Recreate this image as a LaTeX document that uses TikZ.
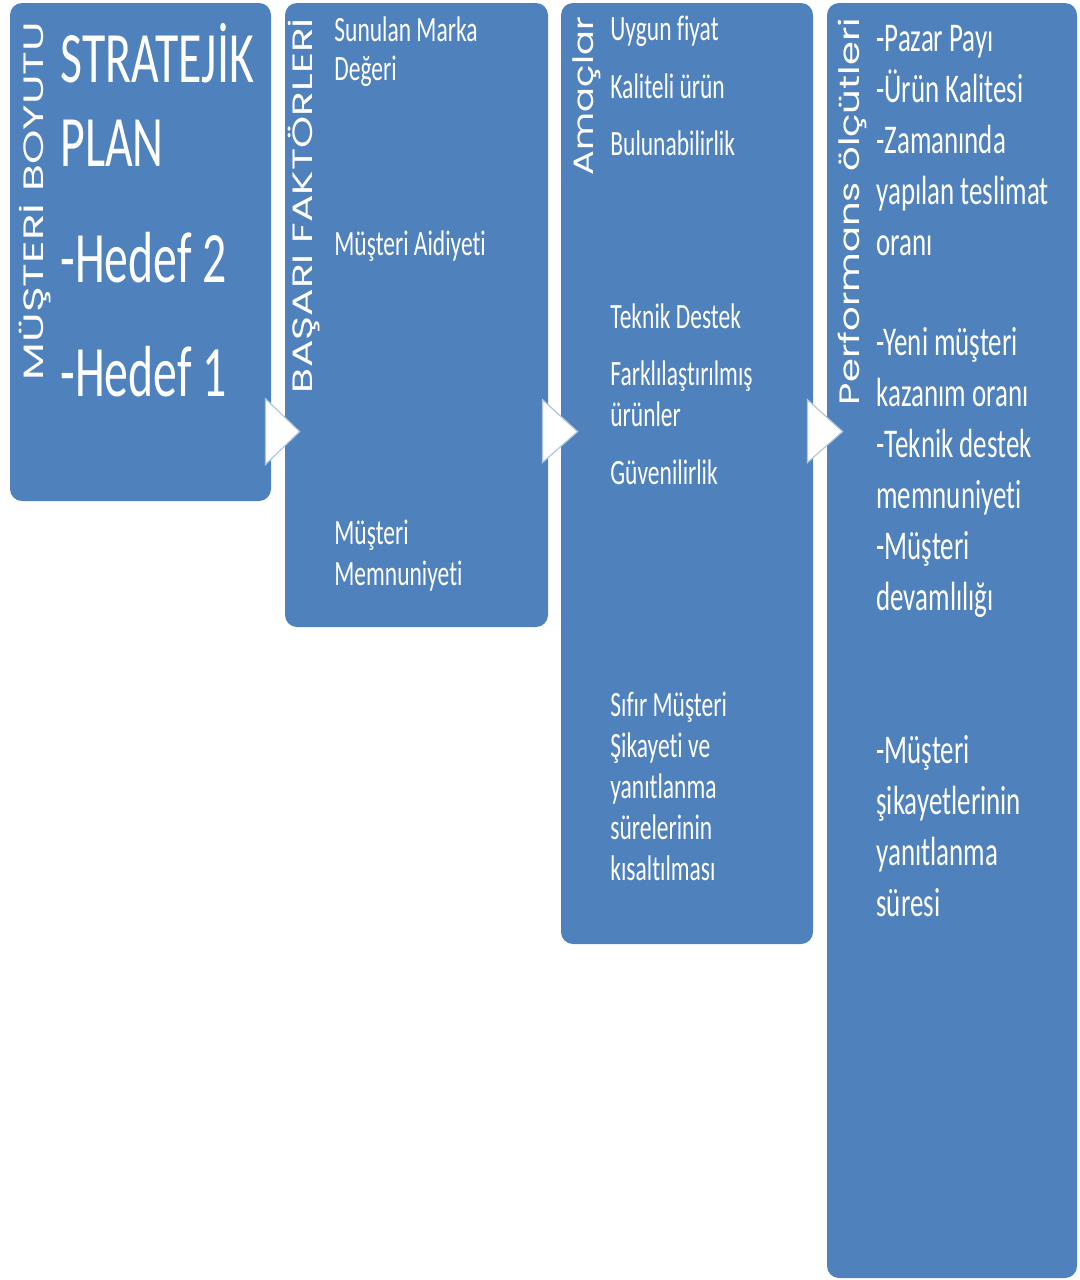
\documentclass[tikz,border=0pt]{standalone}
\usepackage{fontspec}
\usepackage{graphicx}
\setmainfont{Carlito}
\newfontfamily\hfont[FakeStretch=0.66,Ligatures=NoCommon]{Carlito}
\newfontfamily\vfont{Poppins}
\usetikzlibrary{fit,calc}
\definecolor{boxblue}{RGB}{79,129,189}
\tikzset{
  box/.style={fill=boxblue, draw=none, rounded corners=6pt, inner sep=0pt},
  lbl/.style={text=white, anchor=base west, inner sep=0pt, align=left},
  vlbl/.style={text=white, anchor=base, inner sep=0pt, rotate=90},
  chev/.style={fill=white, draw=boxblue!45!white, line width=0.6pt, line join=miter},
  big/.style={font={\hfont\fontsize{36.2pt}{42pt}\selectfont}},
  mid/.style={font={\hfont\fontsize{17.8pt}{20.5pt}\selectfont}},
  midt/.style={font={\hfont\fontsize{17.8pt}{19.5pt}\selectfont}},
  lrg/.style={font={\hfont\fontsize{20.4pt}{25.5pt}\selectfont}},
}
\newcommand\vtext[2]{{\vfont\fontsize{14pt}{16pt}\selectfont\resizebox{#1}{\height}{#2}}}
\begin{document}
\begin{tikzpicture}[x=0.5pt,y=-0.5pt]
\useasboundingbox (0,0) rectangle (1080,1280);
% boxes
\node[box, fit={(10,3) (271,501)}] (b1) {};
\node[box, fit={(285,3) (548,627)}] (b2) {};
\node[box, fit={(561,3) (813,944)}] (b3) {};
\node[box, fit={(827,3) (1077,1278)}] (b4) {};
% chevrons
\draw[chev] ($(b1.north east)+(-6,396)$) -- ($(b2.north west)+(15,429)$) -- ($(b1.north east)+(-6,462)$) -- cycle;
\draw[chev] ($(b2.north east)+(-6,397)$) -- ($(b3.north west)+(17,429)$) -- ($(b2.north east)+(-6,460)$) -- cycle;
\draw[chev] ($(b3.north east)+(-6,397)$) -- ($(b4.north west)+(16,429)$) -- ($(b3.north east)+(-6,460)$) -- cycle;
% vertical titles
\node[vlbl] (v1) at (43,201) {\vtext{179pt}{MÜŞTERİ BOYUTU}};
\node[vlbl] (v2) at (312,205.5) {\vtext{187.5pt}{BAŞARI FAKTÖRLERİ}};
\node[vlbl] (v3) at (593,96) {\vtext{79pt}{Amaçlar}};
\node[vlbl] (v4) at (859,211.5) {\vtext{193.5pt}{Performans ölçütleri}};
% box 1
\node[lbl, big] (s1) at (60,166) {STRATEJİK\\PLAN};
\node[lbl, big] (h2) at (60,282) {-Hedef 2};
\node[lbl, big] (h1) at (60,396) {-Hedef 1};
% box 2
\node[lbl, midt] (f1) at (334,80) {Sunulan Marka\\Değeri};
\node[lbl, mid] (f2) at (334,255) {Müşteri Aidiyeti};
\node[lbl, mid] (f3) at (334,585) {Müşteri\\Memnuniyeti};
% box 3
\node[lbl, mid] (a1) at (610,40) {Uygun fiyat};
\node[lbl, mid] (a2) at (610,98) {Kaliteli ürün};
\node[lbl, mid] (a3) at (610,155) {Bulunabilirlik};
\node[lbl, mid] (a4) at (610,328) {Teknik Destek};
\node[lbl, mid] (a5) at (610,426) {Farklılaştırılmış\\ürünler};
\node[lbl, mid] (a6) at (610,484) {Güvenilirlik};
\node[lbl, mid] (a7) at (610,880) {Sıfır Müşteri\\Şikayeti ve\\yanıtlanma\\sürelerinin\\kısaltılması};
% box 4
\node[lbl, lrg] (p1) at (876,255) {-Pazar Payı\\-Ürün Kalitesi\\-Zamanında\\yapılan teslimat\\oranı};
\node[lbl, lrg] (p2) at (876,610) {-Yeni müşteri\\kazanım oranı\\-Teknik destek\\memnuniyeti\\-Müşteri\\devamlılığı};
\node[lbl, lrg] (p3) at (876,916) {-Müşteri\\şikayetlerinin\\yanıtlanma\\süresi};
\end{tikzpicture}
\end{document}
